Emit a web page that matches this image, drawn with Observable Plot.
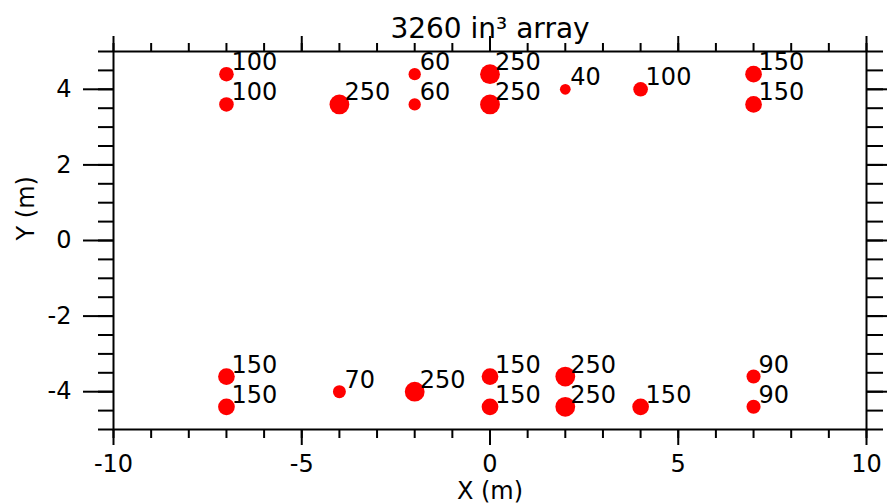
<!DOCTYPE html>
<html>
<head>
<meta charset="utf-8">
<script src="https://cdn.jsdelivr.net/npm/d3@7"></script>
<script src="https://cdn.jsdelivr.net/npm/@observablehq/plot@0.6"></script>
<style>
  html, body { margin: 0; padding: 0; background: #fff; }
  svg { display: block; }
</style>
</head>
<body>
<div id="chart"></div>
<script>
// Source positions (m) and volumes (in^3)
const xs   = [-7, -7, -4, -2, -2, 0, 0, 2, 4, 7, 7,   -7, -7, -4, -2, 0, 0, 2, 2, 4, 7, 7];
const ys   = [4.4, 3.6, 3.6, 4.4, 3.6, 4.4, 3.6, 4.0, 4.0, 4.4, 3.6,
              -3.6, -4.4, -4, -4, -3.6, -4.4, -3.6, -4.4, -4.4, -3.6, -4.4];
const vols = [100, 100, 250, 60, 60, 250, 250, 40, 100, 150, 150,
              150, 150, 70, 250, 150, 150, 250, 250, 150, 90, 90];

const xMajor = [-10, -5, 0, 5, 10];
const xMinor = d3.range(-10, 11, 1);
const yMajor = [-4, -2, 0, 2, 4];
const yMinor = d3.range(-5, 5.01, 0.5);

const titleText = "3260 in³ array";
const xLabel = "X (m)";
const yLabel = "Y (m)";

const data = xs.map((x, i) => ({x, y: ys[i], v: vols[i]}));
const fmt = d => `${d}`;
const none = () => "";

const chart = Plot.plot({
  width: 887,
  height: 504,
  marginLeft: 113,
  marginRight: 21,
  marginTop: 51,
  marginBottom: 75,
  style: {fontFamily: "DejaVu Sans", fontSize: "24px", color: "black", background: "white", overflow: "visible"},
  x: {domain: [-10, 10]},
  y: {domain: [-5, 5]},
  r: {type: "pow", exponent: 1 / 3, domain: [0, 250], range: [0, 9.9]},
  marks: [
    // bottom
    Plot.axisX(xMinor, {anchor: "bottom", tickSize: 9, tickFormat: none, label: null, strokeWidth: 2}),
    Plot.axisX(xMajor, {anchor: "bottom", tickSize: 16, tickPadding: 9, tickFormat: fmt, label: null, strokeWidth: 2}),
    // top
    Plot.axisX(xMinor, {anchor: "top", tickSize: 9, tickFormat: none, label: null, strokeWidth: 2}),
    Plot.axisX(xMajor, {anchor: "top", tickSize: 16, tickFormat: none, label: null, strokeWidth: 2}),
    // left
    Plot.axisY(yMinor, {anchor: "left", tickSize: 15, tickFormat: none, label: null, strokeWidth: 2}),
    Plot.axisY(yMajor, {anchor: "left", tickSize: 30, tickPadding: 12, tickFormat: fmt, label: null, strokeWidth: 2}),
    // right
    Plot.axisY(yMinor, {anchor: "right", tickSize: 16, tickFormat: none, label: null, strokeWidth: 2}),
    Plot.axisY(yMajor, {anchor: "right", tickSize: 30, tickFormat: none, label: null, strokeWidth: 2}),
    Plot.frame({stroke: "black", strokeWidth: 2}),
    Plot.dot(data, {x: "x", y: "y", r: "v", fill: "#ff0000", stroke: "none"}),
    Plot.text(data, {x: "x", y: "y", text: d => `${d.v}`, textAnchor: "start", lineAnchor: "bottom", dx: 5, dy: -4, fill: "black"}),
    Plot.text([titleText], {frameAnchor: "top", text: d => d, lineAnchor: "bottom", dy: -14, fontSize: 28, fill: "black"}),
    Plot.text([xLabel], {frameAnchor: "bottom", text: d => d, lineAnchor: "bottom", dy: 69, fill: "black"}),
    Plot.text([yLabel], {frameAnchor: "left", text: d => d, rotate: -90, lineAnchor: "bottom", dx: -80, fill: "black"})
  ]
});
document.getElementById("chart").appendChild(chart);
</script>
</body>
</html>
